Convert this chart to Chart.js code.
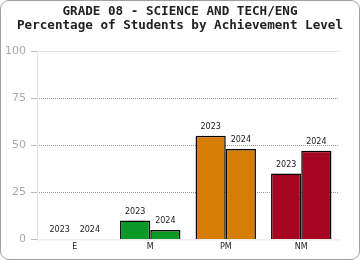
<!DOCTYPE html>
<html>
<head>
<meta charset="utf-8">
<script src="https://cdn.jsdelivr.net/npm/chart.js@4/dist/chart.umd.min.js"></script>
<style>
  html, body { margin: 0; padding: 0; background: #fff; }
  #wrap { position: relative; width: 360px; height: 260px; }
  #frame { position: absolute; left: 0; top: 0; width: 360px; height: 260px; box-sizing: border-box;
           border: 1px solid #a0a0a0; border-radius: 9px; pointer-events: none; }
</style>
</head>
<body>
<div id="wrap">
  <canvas id="chart" width="360" height="260"></canvas>
  <div id="frame"></div>
</div>
<script>
// chart data
const levels = ['E', 'M', 'PM', 'NM'];
const years = ['2023', '2024'];
const values2023 = [0, 10, 55, 35];
const values2024 = [0, 5, 48, 47];
const levelColors = ['#1f6fb5', '#0a9926', '#d67d05', '#a50521'];
const yTicks = [0, 25, 50, 75, 100];
const titleLines = ['GRADE 08 - SCIENCE AND TECH/ENG', 'Percentage of Students by Achievement Level'];

// title centred on the whole canvas
const pageTitle = {
    id: 'pageTitle',
    afterDraw(chart) {
        const ctx = chart.ctx;
        ctx.save();
        ctx.font = 'bold 12.6px "DejaVu Sans Mono"';
        ctx.fillStyle = '#222';
        ctx.textAlign = 'center';
        ctx.textBaseline = 'middle';
        titleLines.forEach((t, i) => ctx.fillText(t, chart.width / 2, 12 + i * 13.5));
        ctx.restore();
    }
};

// year labels above each bar
const barLabels = {
    id: 'barLabels',
    afterDatasetsDraw(chart) {
        const ctx = chart.ctx;
        ctx.save();
        ctx.font = '8px "DejaVu Sans"';
        ctx.fillStyle = '#222';
        ctx.textAlign = 'center';
        ctx.textBaseline = 'bottom';
        chart.data.datasets.forEach((ds, i) => {
            chart.getDatasetMeta(i).data.forEach(bar => {
                ctx.fillText(ds.label, bar.x, bar.y - 5);
            });
        });
        ctx.restore();
    }
};

// light frame lines of the plot area
const plotFrame = {
    id: 'plotFrame',
    beforeDatasetsDraw(chart) {
        const a = chart.chartArea;
        const ctx = chart.ctx;
        ctx.save();
        ctx.strokeStyle = '#e4e4e4';
        ctx.lineWidth = 1;
        ctx.beginPath();
        ctx.moveTo(a.left + 0.5, a.top + 0.5);
        ctx.lineTo(a.right + 0.5, a.top + 0.5);
        ctx.moveTo(a.left + 0.5, a.top);
        ctx.lineTo(a.left + 0.5, a.bottom + 0.5);
        ctx.lineTo(a.right + 0.5, a.bottom + 0.5);
        ctx.stroke();
        ctx.restore();
    }
};

new Chart(document.getElementById('chart'), {
    type: 'bar',
    data: {
        labels: levels,
        datasets: [
            { label: years[0], data: values2023, backgroundColor: levelColors, borderColor: '#000', borderWidth: 1.5 },
            { label: years[1], data: values2024, backgroundColor: levelColors, borderColor: '#000', borderWidth: 1.5 }
        ]
    },
    options: {
        responsive: false,
        animation: false,
        datasets: { bar: { categoryPercentage: 0.8, barPercentage: 1 } },
        layout: { padding: { left: 0, right: 21, top: 51, bottom: 5 } },
        plugins: {
            legend: { display: false },
            tooltip: { enabled: false },
            title: { display: false }
        },
        scales: {
            x: {
                grid: { display: false, drawTicks: false },
                border: { display: false },
                ticks: { color: '#222', font: { family: '"DejaVu Sans"', size: 8 }, padding: 3 }
            },
            y: {
                min: 0,
                max: 100,
                afterBuildTicks: axis => { axis.ticks = yTicks.map(v => ({ value: v })); },
                border: { display: false, dash: [1, 1] },
                grid: {
                    color: c => (c.tick && c.tick.value > 0 && c.tick.value < 100) ? '#999' : 'rgba(0,0,0,0)',
                    tickColor: '#bbb',
                    tickLength: 6
                },
                ticks: { color: '#aaa', font: { family: '"DejaVu Sans"', size: 11 }, padding: 5 }
            }
        }
    },
    plugins: [plotFrame, barLabels, pageTitle]
});
</script>
</body>
</html>
